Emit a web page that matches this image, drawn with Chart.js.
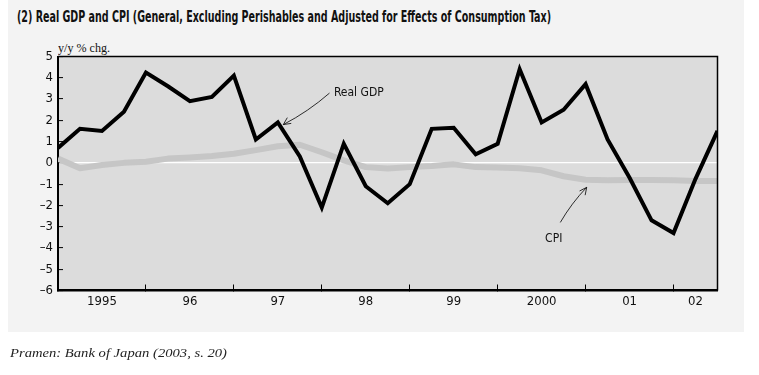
<!DOCTYPE html>
<html>
<head>
<meta charset="utf-8">
<title>Real GDP and CPI</title>
<script src="https://cdn.jsdelivr.net/npm/chart.js@4/dist/chart.umd.min.js"></script>
<style>
  html, body { margin: 0; padding: 0; background: #fff; }
  body { position: relative; width: 759px; height: 375px; overflow: hidden; }
  #panel { position: absolute; left: 8px; top: 0; width: 736px; height: 332px; background: #f3f3f3; }
  .txt { position: absolute; white-space: nowrap; transform-origin: 0 0; color: #111; }
  #title { left: 17px; top: 10px; font: bold 15px/15px "Liberation Sans Narrow", "DejaVu Sans Condensed", "Liberation Sans", sans-serif; }
  #unit { left: 58px; top: 41px; font: 13px/13px "Liberation Serif", "DejaVu Serif", serif; }
  #source { left: 10px; top: 346px; font: italic 13px/13px "Liberation Serif", "DejaVu Serif", serif; color: #222; }
  #wrap { position: absolute; left: 0; top: 0; width: 759px; height: 375px; }
</style>
</head>
<body>
<div id="panel"></div>
<div id="title" class="txt" data-w="534">(2) Real GDP and CPI (General, Excluding Perishables and Adjusted for Effects of Consumption Tax)</div>
<div id="unit" class="txt" data-w="52">y/y % chg.</div>
<div id="wrap"><canvas id="c" width="759" height="375"></canvas></div>
<div id="source" class="txt" data-w="217">Pramen: Bank of Japan (2003, s. 20)</div>
<script>
// Real GDP and CPI, y/y % change, quarterly 1995 – 2002 Q2 (Bank of Japan, 2003).
// One point per quarter, index 0..30; year boundaries fall on every 4th index.
var QUARTER_INDEX = [0,1,2,3,4,5,6,7,8,9,10,11,12,13,14,15,16,17,18,19,20,21,22,23,24,25,26,27,28,29,30];
var REAL_GDP = [0.7, 1.6, 1.5, 2.4, 4.25, 3.6, 2.9, 3.1, 4.1, 1.1, 1.9, 0.3, -2.1, 0.9, -1.1, -1.9,
                -1.0, 1.6, 1.65, 0.4, 0.9, 4.4, 1.9, 2.5, 3.7, 1.1, -0.7, -2.7, -3.3, -0.75, 1.5];
var CPI = [0.2, -0.25, -0.1, 0.0, 0.05, 0.2, 0.25, 0.32, 0.43, 0.6, 0.78, 0.85, 0.5, 0.12, -0.2, -0.27,
           -0.2, -0.15, -0.07, -0.2, -0.22, -0.25, -0.35, -0.63, -0.79, -0.82, -0.8, -0.8, -0.82, -0.85, -0.85];
var YEAR_LABELS = ["1995", "96", "97", "98", "99", "2000", "01", "02"];
var YEAR_LABEL_AT = [2, 6, 10, 14, 18, 22, 26, 29];       // label sits mid-year (02 is a half year)
var YEAR_BOUNDARIES = [4, 8, 12, 16, 20, 24, 28];
var Y_MIN = -6, Y_MAX = 5;

// callouts, in data units (quarter index, % chg.)
var GDP_NOTE = { text: "Real GDP", at: [12.55, 3.28], from: [12.35, 3.28], to: [10.25, 1.8] };
var CPI_NOTE = { text: "CPI", at: [22.55, -3.57], from: [22.85, -2.8], to: [24.05, -1.15] };

(function () {
  "use strict";

  var NARROW = '"Liberation Sans Narrow", "DejaVu Sans Condensed", "Liberation Sans", sans-serif';

  // squeeze the html captions to the widths they have in the print
  Array.prototype.forEach.call(document.querySelectorAll(".txt"), function (el) {
    var w = el.getBoundingClientRect().width;
    var want = parseFloat(el.getAttribute("data-w"));
    if (w > 0 && want) el.style.transform = "scaleX(" + (want / w) + ")";
  });

  function pairs(ys) {
    return QUARTER_INDEX.map(function (x, i) { return { x: x, y: ys[i] }; });
  }

  function minus(v) { return v < 0 ? "\u2013" + Math.abs(v) : String(v); }

  // grey plot box, thin frame on top / right (left and bottom come from the axes)
  var frame = {
    id: "frame",
    beforeDraw: function (chart) {
      var a = chart.chartArea, c = chart.ctx;
      c.save();
      c.fillStyle = "#dcdcdc";
      c.fillRect(a.left, a.top, a.right - a.left, a.bottom - a.top);
      c.restore();
    },
    afterDraw: function (chart) {
      var a = chart.chartArea, c = chart.ctx;
      c.save();
      c.strokeStyle = "#000";
      c.lineWidth = 1.5;
      c.beginPath();
      c.moveTo(a.left, a.top);
      c.lineTo(a.right, a.top);
      c.lineTo(a.right, a.bottom);
      c.stroke();
      c.restore();
    }
  };

  function arrow(c, x1, y1, x2, y2) {
    var ang = Math.atan2(y2 - y1, x2 - x1), h = 8, s = 0.45;
    var mx = (x1 + x2) / 2 + (y2 - y1) * 0.06, my = (y1 + y2) / 2 - (x2 - x1) * 0.06;
    c.beginPath();
    c.moveTo(x1, y1);
    c.quadraticCurveTo(mx, my, x2, y2);
    c.moveTo(x2 - h * Math.cos(ang - s), y2 - h * Math.sin(ang - s));
    c.lineTo(x2, y2);
    c.lineTo(x2 - h * Math.cos(ang + s), y2 - h * Math.sin(ang + s));
    c.stroke();
  }

  var callouts = {
    id: "callouts",
    afterDatasetsDraw: function (chart) {
      var sx = chart.scales.x, sy = chart.scales.y, c = chart.ctx;
      function px(p) { return [sx.getPixelForValue(p[0]), sy.getPixelForValue(p[1])]; }
      c.save();
      c.strokeStyle = "#000";
      c.lineWidth = 0.8;
      c.fillStyle = "#111";
      c.font = "12px " + NARROW;
      c.textBaseline = "middle";

      var g = px(GDP_NOTE.at), gf = px(GDP_NOTE.from), gt = px(GDP_NOTE.to);
      c.textAlign = "left";
      c.fillText(GDP_NOTE.text, g[0], g[1]);
      arrow(c, gf[0], gf[1], gt[0], gt[1]);

      var p = px(CPI_NOTE.at), pf = px(CPI_NOTE.from), pt = px(CPI_NOTE.to);
      c.textAlign = "center";
      c.fillText(CPI_NOTE.text, p[0], p[1]);
      arrow(c, pf[0], pf[1], pt[0], pt[1]);
      c.restore();
    }
  };

  new Chart(document.getElementById("c"), {
    type: "line",
    data: {
      datasets: [
        { label: "Real GDP", data: pairs(REAL_GDP), borderColor: "#000", borderWidth: 4,
          pointRadius: 0, tension: 0, borderJoinStyle: "miter" },
        { label: "CPI", data: pairs(CPI), borderColor: "#c6c6c6", borderWidth: 6,
          pointRadius: 0, tension: 0, borderJoinStyle: "round" }
      ]
    },
    options: {
      responsive: false,
      animation: false,
      events: [],
      layout: { padding: { left: 8, right: 41.5, top: 56.5, bottom: 54.5 } },
      plugins: { legend: { display: false }, tooltip: { enabled: false }, title: { display: false } },
      scales: {
        x: {
          type: "linear",
          min: 0,
          max: QUARTER_INDEX.length - 1,
          afterBuildTicks: function (s) {
            s.ticks = YEAR_LABEL_AT.concat(YEAR_BOUNDARIES)
              .sort(function (a, b) { return a - b; })
              .map(function (v) { return { value: v }; });
          },
          afterFit: function (s) { s.height = 30; },
          border: { color: "#000", width: 2.5 },
          grid: {
            drawOnChartArea: false,
            tickLength: -6,
            tickWidth: 1,
            tickColor: function (ctx) {
              return YEAR_BOUNDARIES.indexOf(ctx.tick.value) >= 0 ? "#000" : "rgba(0,0,0,0)";
            }
          },
          ticks: {
            autoSkip: false,
            maxRotation: 0,
            padding: 9,
            color: "#111",
            font: { family: NARROW, size: 13 },
            callback: function (v) {
              var k = YEAR_LABEL_AT.indexOf(v);
              return k >= 0 ? YEAR_LABELS[k] : "";
            }
          }
        },
        y: {
          min: Y_MIN,
          max: Y_MAX,
          afterFit: function (s) { s.width = 50; },
          border: { color: "#000", width: 2 },
          grid: {
            drawOnChartArea: true,
            tickLength: -5,
            tickWidth: 1,
            tickColor: "#000",
            color: function (ctx) { return ctx.tick && ctx.tick.value === 0 ? "#fff" : "rgba(0,0,0,0)"; },
            lineWidth: 1.2
          },
          ticks: {
            stepSize: 1,
            padding: 10,
            color: "#111",
            font: { family: NARROW, size: 13 },
            callback: minus
          }
        }
      }
    },
    plugins: [frame, callouts]
  });
})();
</script>
</body>
</html>
